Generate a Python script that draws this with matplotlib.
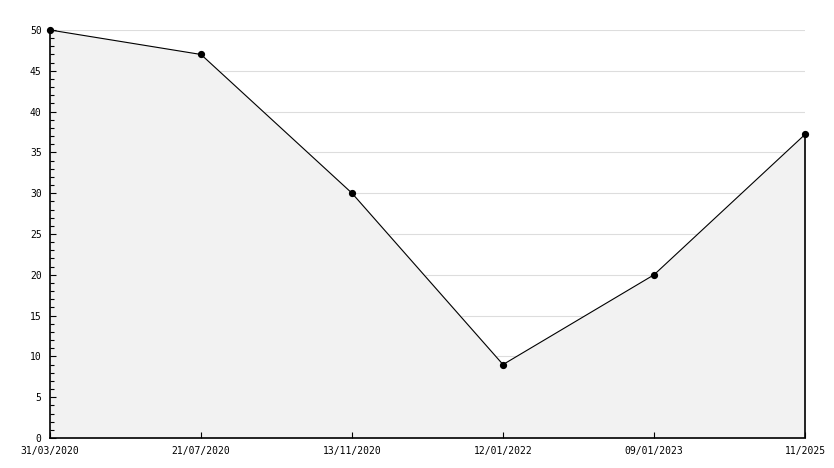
import numpy as np
import matplotlib
matplotlib.use("Agg")
import matplotlib.pyplot as plt
from matplotlib.ticker import MultipleLocator

dates = ["31/03/2020", "21/07/2020", "13/11/2020", "12/01/2022", "09/01/2023", "11/2025"]
values = [50, 47, 30, 9, 20, 37.2]

x = np.arange(len(dates))

plt.rcParams["font.family"] = "DejaVu Sans Mono"

fig = plt.figure(figsize=(8.34, 4.68), dpi=100)
ax = fig.add_axes([50 / 834, 1 - 438 / 468, 755 / 834, 408 / 468])

ax.set_xlim(x[0], x[-1])
ax.set_ylim(0, 50)
ax.yaxis.set_major_locator(MultipleLocator(5))
ax.yaxis.set_minor_locator(MultipleLocator(1))
ax.set_xticks(x)
ax.set_xticklabels(dates)

# grid drawn by hand so it sits under the fill while ticks stay on top
for gy in ax.get_yticks()[1:]:
    ax.axhline(gy, color="#dddddd", lw=0.8, zorder=0)

ax.fill_between(x, values, 0, color="#f2f2f2", zorder=1)
ax.plot(x, values, color="black", lw=0.8, marker="o", ms=4.2, zorder=4,
        clip_on=False)
# right edge of the filled area
ax.vlines(x[-1], 0, values[-1], color="black", lw=1.2, zorder=3, clip_on=False)

for s in ["top", "right"]:
    ax.spines[s].set_visible(False)
for s in ["left", "bottom"]:
    ax.spines[s].set_linewidth(1.2)

ax.tick_params(axis="both", which="major", direction="in", length=4, width=0.8,
               labelsize=7, colors="black")
ax.tick_params(axis="y", which="minor", direction="in", length=3, width=0.8)
ax.tick_params(axis="y", which="major", pad=6)
ax.tick_params(axis="x", which="major", pad=6)

fig.savefig("out.png", dpi=100)
